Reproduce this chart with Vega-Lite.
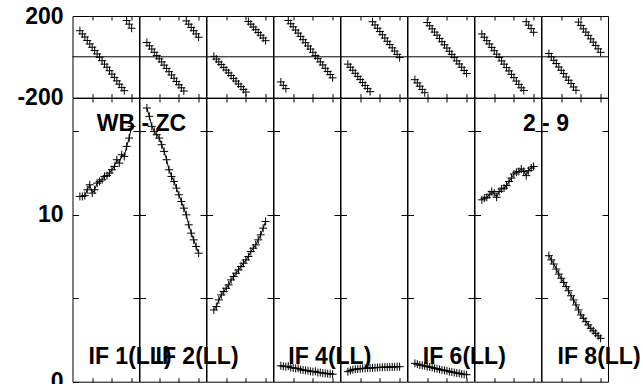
{
  "$schema": "https://vega.github.io/schema/vega-lite/v6.json",
  "background": "white",
  "padding": {"left": 15.5, "top": 4, "right": 0, "bottom": 0},
  "config": {
    "view": {"stroke": "black", "strokeWidth": 1},
    "font": "Liberation Sans",
    "axis": {"labelFont": "Liberation Sans", "labelFontSize": 23, "labelFontWeight": "bold", "labelColor": "black", "tickColor": "black", "tickWidth": 1, "domain": false, "grid": false, "labelOverlap": false}
  },
  "datasets": {
    "vis": [
      {"IF":1,"chan":3,"amp":11.1,"phase":128},{"IF":1,"chan":4,"amp":11.1,"phase":112},{"IF":1,"chan":5,"amp":11.15,"phase":97},{"IF":1,"chan":6,"amp":11.5,"phase":80},{"IF":1,"chan":7,"amp":11.8,"phase":63},{"IF":1,"chan":8,"amp":11.3,"phase":47},{"IF":1,"chan":9,"amp":11.5,"phase":31},{"IF":1,"chan":10,"amp":11.9,"phase":14},{"IF":1,"chan":11,"amp":12.0,"phase":-2},{"IF":1,"chan":12,"amp":12.1,"phase":-19},{"IF":1,"chan":13,"amp":12.3,"phase":-36},{"IF":1,"chan":14,"amp":12.35,"phase":-51},{"IF":1,"chan":15,"amp":12.5,"phase":-68},{"IF":1,"chan":16,"amp":12.7,"phase":-85},{"IF":1,"chan":17,"amp":12.9,"phase":-101},{"IF":1,"chan":18,"amp":13.3,"phase":-118},{"IF":1,"chan":19,"amp":13.1,"phase":-134},{"IF":1,"chan":20,"amp":13.6,"phase":-151},{"IF":1,"chan":21,"amp":13.5,"phase":-166},{"IF":1,"chan":22,"amp":14.1,"phase":178},{"IF":1,"chan":23,"amp":14.6,"phase":160},{"IF":1,"chan":24,"amp":15.3,"phase":140},
      {"IF":2,"chan":3,"amp":16.4,"phase":70},{"IF":2,"chan":4,"amp":15.9,"phase":54},{"IF":2,"chan":5,"amp":15.3,"phase":38},{"IF":2,"chan":6,"amp":15.0,"phase":22},{"IF":2,"chan":7,"amp":14.8,"phase":6},{"IF":2,"chan":8,"amp":14.6,"phase":-10},{"IF":2,"chan":9,"amp":14.2,"phase":-25},{"IF":2,"chan":10,"amp":13.8,"phase":-41},{"IF":2,"chan":11,"amp":13.3,"phase":-57},{"IF":2,"chan":12,"amp":12.7,"phase":-73},{"IF":2,"chan":13,"amp":12.3,"phase":-89},{"IF":2,"chan":14,"amp":12.0,"phase":-105},{"IF":2,"chan":15,"amp":11.6,"phase":-121},{"IF":2,"chan":16,"amp":11.2,"phase":-137},{"IF":2,"chan":17,"amp":10.8,"phase":-152},{"IF":2,"chan":18,"amp":10.4,"phase":-168},{"IF":2,"chan":19,"amp":10.0,"phase":176},{"IF":2,"chan":20,"amp":9.4,"phase":160},{"IF":2,"chan":21,"amp":8.9,"phase":144},{"IF":2,"chan":22,"amp":8.5,"phase":128},{"IF":2,"chan":23,"amp":8.1,"phase":112},{"IF":2,"chan":24,"amp":7.7,"phase":96},
      {"IF":3,"chan":3,"amp":4.3,"phase":2},{"IF":3,"chan":4,"amp":4.5,"phase":-11},{"IF":3,"chan":5,"amp":4.9,"phase":-25},{"IF":3,"chan":6,"amp":5.2,"phase":-38},{"IF":3,"chan":7,"amp":5.4,"phase":-52},{"IF":3,"chan":8,"amp":5.6,"phase":-65},{"IF":3,"chan":9,"amp":5.8,"phase":-79},{"IF":3,"chan":10,"amp":6.1,"phase":-92},{"IF":3,"chan":11,"amp":6.3,"phase":-106},{"IF":3,"chan":12,"amp":6.5,"phase":-119},{"IF":3,"chan":13,"amp":6.7,"phase":-133},{"IF":3,"chan":14,"amp":6.9,"phase":-146},{"IF":3,"chan":15,"amp":7.1,"phase":-160},{"IF":3,"chan":16,"amp":7.3,"phase":-173},{"IF":3,"chan":17,"amp":7.5,"phase":173},{"IF":3,"chan":18,"amp":7.8,"phase":160},{"IF":3,"chan":19,"amp":8.0,"phase":146},{"IF":3,"chan":20,"amp":8.2,"phase":133},{"IF":3,"chan":21,"amp":8.5,"phase":119},{"IF":3,"chan":22,"amp":8.8,"phase":106},{"IF":3,"chan":23,"amp":9.2,"phase":92},{"IF":3,"chan":24,"amp":9.6,"phase":79},
      {"IF":4,"chan":3,"amp":0.95,"phase":-123},{"IF":4,"chan":4,"amp":0.92,"phase":-140},{"IF":4,"chan":5,"amp":0.9,"phase":-156},{"IF":4,"chan":6,"amp":0.93,"phase":178},{"IF":4,"chan":7,"amp":0.85,"phase":162},{"IF":4,"chan":8,"amp":0.82,"phase":147},{"IF":4,"chan":9,"amp":0.8,"phase":131},{"IF":4,"chan":10,"amp":0.8,"phase":116},{"IF":4,"chan":11,"amp":0.72,"phase":100},{"IF":4,"chan":12,"amp":0.7,"phase":84},{"IF":4,"chan":13,"amp":0.68,"phase":69},{"IF":4,"chan":14,"amp":0.66,"phase":53},{"IF":4,"chan":15,"amp":0.62,"phase":38},{"IF":4,"chan":16,"amp":0.6,"phase":22},{"IF":4,"chan":17,"amp":0.62,"phase":6},{"IF":4,"chan":18,"amp":0.55,"phase":-9},{"IF":4,"chan":19,"amp":0.55,"phase":-25},{"IF":4,"chan":20,"amp":0.52,"phase":-40},{"IF":4,"chan":21,"amp":0.5,"phase":-56},{"IF":4,"chan":22,"amp":0.48,"phase":-72},{"IF":4,"chan":23,"amp":0.47,"phase":-87},{"IF":4,"chan":24,"amp":0.45,"phase":-103},
      {"IF":5,"chan":3,"amp":0.6,"phase":-36},{"IF":5,"chan":4,"amp":0.68,"phase":-51},{"IF":5,"chan":5,"amp":0.72,"phase":-66},{"IF":5,"chan":6,"amp":0.75,"phase":-81},{"IF":5,"chan":7,"amp":0.76,"phase":-96},{"IF":5,"chan":8,"amp":0.78,"phase":-111},{"IF":5,"chan":9,"amp":0.8,"phase":-126},{"IF":5,"chan":10,"amp":0.8,"phase":-141},{"IF":5,"chan":11,"amp":0.82,"phase":-156},{"IF":5,"chan":12,"amp":0.82,"phase":-171},{"IF":5,"chan":13,"amp":0.83,"phase":172},{"IF":5,"chan":14,"amp":0.84,"phase":156},{"IF":5,"chan":15,"amp":0.85,"phase":140},{"IF":5,"chan":16,"amp":0.86,"phase":124},{"IF":5,"chan":17,"amp":0.86,"phase":108},{"IF":5,"chan":18,"amp":0.87,"phase":92},{"IF":5,"chan":19,"amp":0.87,"phase":76},{"IF":5,"chan":20,"amp":0.88,"phase":60},{"IF":5,"chan":21,"amp":0.88,"phase":44},{"IF":5,"chan":22,"amp":0.89,"phase":28},{"IF":5,"chan":23,"amp":0.9,"phase":12},{"IF":5,"chan":24,"amp":0.9,"phase":-4},
      {"IF":6,"chan":3,"amp":1.1,"phase":-112},{"IF":6,"chan":4,"amp":1.05,"phase":-128},{"IF":6,"chan":5,"amp":1.0,"phase":-144},{"IF":6,"chan":6,"amp":0.98,"phase":-160},{"IF":6,"chan":7,"amp":0.95,"phase":-176},{"IF":6,"chan":8,"amp":0.9,"phase":168},{"IF":6,"chan":9,"amp":0.88,"phase":152},{"IF":6,"chan":10,"amp":0.85,"phase":137},{"IF":6,"chan":11,"amp":0.8,"phase":121},{"IF":6,"chan":12,"amp":0.78,"phase":106},{"IF":6,"chan":13,"amp":0.74,"phase":90},{"IF":6,"chan":14,"amp":0.7,"phase":74},{"IF":6,"chan":15,"amp":0.68,"phase":59},{"IF":6,"chan":16,"amp":0.65,"phase":43},{"IF":6,"chan":17,"amp":0.6,"phase":27},{"IF":6,"chan":18,"amp":0.58,"phase":12},{"IF":6,"chan":19,"amp":0.55,"phase":-4},{"IF":6,"chan":20,"amp":0.52,"phase":-20},{"IF":6,"chan":21,"amp":0.5,"phase":-35},{"IF":6,"chan":22,"amp":0.46,"phase":-51},{"IF":6,"chan":23,"amp":0.44,"phase":-67},{"IF":6,"chan":24,"amp":0.42,"phase":-82},
      {"IF":7,"chan":3,"amp":10.9,"phase":112},{"IF":7,"chan":4,"amp":11.0,"phase":96},{"IF":7,"chan":5,"amp":11.05,"phase":79},{"IF":7,"chan":6,"amp":11.2,"phase":63},{"IF":7,"chan":7,"amp":11.4,"phase":46},{"IF":7,"chan":8,"amp":11.3,"phase":30},{"IF":7,"chan":9,"amp":11.05,"phase":13},{"IF":7,"chan":10,"amp":11.4,"phase":-3},{"IF":7,"chan":11,"amp":11.55,"phase":-20},{"IF":7,"chan":12,"amp":11.6,"phase":-36},{"IF":7,"chan":13,"amp":11.75,"phase":-53},{"IF":7,"chan":14,"amp":12.0,"phase":-69},{"IF":7,"chan":15,"amp":12.2,"phase":-86},{"IF":7,"chan":16,"amp":12.45,"phase":-102},{"IF":7,"chan":17,"amp":12.55,"phase":-119},{"IF":7,"chan":18,"amp":12.6,"phase":-135},{"IF":7,"chan":19,"amp":12.75,"phase":-152},{"IF":7,"chan":20,"amp":12.6,"phase":-165},{"IF":7,"chan":21,"amp":12.35,"phase":172},{"IF":7,"chan":22,"amp":12.65,"phase":155},{"IF":7,"chan":23,"amp":12.8,"phase":138},{"IF":7,"chan":24,"amp":12.9,"phase":120},
      {"IF":8,"chan":3,"amp":7.55,"phase":16},{"IF":8,"chan":4,"amp":7.3,"phase":0},{"IF":8,"chan":5,"amp":7.05,"phase":-17},{"IF":8,"chan":6,"amp":6.75,"phase":-33},{"IF":8,"chan":7,"amp":6.45,"phase":-50},{"IF":8,"chan":8,"amp":6.2,"phase":-66},{"IF":8,"chan":9,"amp":5.95,"phase":-82},{"IF":8,"chan":10,"amp":5.7,"phase":-99},{"IF":8,"chan":11,"amp":5.45,"phase":-115},{"IF":8,"chan":12,"amp":5.15,"phase":-131},{"IF":8,"chan":13,"amp":4.9,"phase":-148},{"IF":8,"chan":14,"amp":4.6,"phase":-164},{"IF":8,"chan":15,"amp":4.3,"phase":170},{"IF":8,"chan":16,"amp":4.0,"phase":154},{"IF":8,"chan":17,"amp":3.8,"phase":137},{"IF":8,"chan":18,"amp":3.6,"phase":121},{"IF":8,"chan":19,"amp":3.4,"phase":105},{"IF":8,"chan":20,"amp":3.2,"phase":88},{"IF":8,"chan":21,"amp":3.05,"phase":72},{"IF":8,"chan":22,"amp":2.9,"phase":55},{"IF":8,"chan":23,"amp":2.75,"phase":39},{"IF":8,"chan":24,"amp":2.6,"phase":22}
    ]
  },
  "columns": 8,
  "spacing": 0,
  "bounds": "flush",
  "align": "each",
  "concat": [
    {"width": 66.5, "height": 81.6, "resolve": {"axis": {"x": "independent", "y": "independent"}}, "layer": [
      {"data": {"values": [{"phase": 0}]}, "mark": {"type": "rule", "color": "black", "strokeWidth": 1}, "encoding": {"x": {"datum": 0, "axis": {"orient": "top", "values": [8,16,24], "labels": false, "tickSize": 4, "offset": -4, "title": null}}, "x2": {"datum": 27}, "y": {"field": "phase", "type": "quantitative", "axis": {"orient": "left", "values": [-200,200], "labelExpr": "datum.value < 0 ? '-' + abs(datum.value) : '' + datum.value", "ticks": false, "tickSize": 0, "labelPadding": 9.5, "title": null}}}},
      {"data": {"name": "vis"}, "transform": [{"filter": "datum.IF == 1"}], "mark": {"type": "point", "shape": "M-1,0L1,0M0,-1L0,1", "filled": false, "stroke": "black", "strokeWidth": 1, "size": 64, "opacity": 1}, "encoding": {"x": {"field": "chan", "type": "quantitative", "scale": {"domain": [0,27], "nice": false, "zero": false}, "axis": {"orient": "bottom", "values": [8,16,24], "labels": false, "tickSize": 4, "offset": -4, "title": null}}, "y": {"field": "phase", "type": "quantitative", "scale": {"domain": [-200,200], "nice": false, "zero": false}, "axis": null}}}
    ]},
    {"width": 66.5, "height": 81.6, "resolve": {"axis": {"x": "independent", "y": "independent"}}, "layer": [
      {"data": {"values": [{"phase": 0}]}, "mark": {"type": "rule", "color": "black", "strokeWidth": 1}, "encoding": {"x": {"datum": 0, "axis": {"orient": "top", "values": [8,16,24], "labels": false, "tickSize": 4, "offset": -4, "title": null}}, "x2": {"datum": 27}, "y": {"field": "phase", "type": "quantitative", "axis": null}}},
      {"data": {"name": "vis"}, "transform": [{"filter": "datum.IF == 2"}], "mark": {"type": "point", "shape": "M-1,0L1,0M0,-1L0,1", "filled": false, "stroke": "black", "strokeWidth": 1, "size": 64, "opacity": 1}, "encoding": {"x": {"field": "chan", "type": "quantitative", "scale": {"domain": [0,27], "nice": false, "zero": false}, "axis": {"orient": "bottom", "values": [8,16,24], "labels": false, "tickSize": 4, "offset": -4, "title": null}}, "y": {"field": "phase", "type": "quantitative", "scale": {"domain": [-200,200], "nice": false, "zero": false}, "axis": null}}}
    ]},
    {"width": 66.5, "height": 81.6, "resolve": {"axis": {"x": "independent", "y": "independent"}}, "layer": [
      {"data": {"values": [{"phase": 0}]}, "mark": {"type": "rule", "color": "black", "strokeWidth": 1}, "encoding": {"x": {"datum": 0, "axis": {"orient": "top", "values": [8,16,24], "labels": false, "tickSize": 4, "offset": -4, "title": null}}, "x2": {"datum": 27}, "y": {"field": "phase", "type": "quantitative", "axis": null}}},
      {"data": {"name": "vis"}, "transform": [{"filter": "datum.IF == 3"}], "mark": {"type": "point", "shape": "M-1,0L1,0M0,-1L0,1", "filled": false, "stroke": "black", "strokeWidth": 1, "size": 64, "opacity": 1}, "encoding": {"x": {"field": "chan", "type": "quantitative", "scale": {"domain": [0,27], "nice": false, "zero": false}, "axis": {"orient": "bottom", "values": [8,16,24], "labels": false, "tickSize": 4, "offset": -4, "title": null}}, "y": {"field": "phase", "type": "quantitative", "scale": {"domain": [-200,200], "nice": false, "zero": false}, "axis": null}}}
    ]},
    {"width": 66.5, "height": 81.6, "resolve": {"axis": {"x": "independent", "y": "independent"}}, "layer": [
      {"data": {"values": [{"phase": 0}]}, "mark": {"type": "rule", "color": "black", "strokeWidth": 1}, "encoding": {"x": {"datum": 0, "axis": {"orient": "top", "values": [8,16,24], "labels": false, "tickSize": 4, "offset": -4, "title": null}}, "x2": {"datum": 27}, "y": {"field": "phase", "type": "quantitative", "axis": null}}},
      {"data": {"name": "vis"}, "transform": [{"filter": "datum.IF == 4"}], "mark": {"type": "point", "shape": "M-1,0L1,0M0,-1L0,1", "filled": false, "stroke": "black", "strokeWidth": 1, "size": 64, "opacity": 1}, "encoding": {"x": {"field": "chan", "type": "quantitative", "scale": {"domain": [0,27], "nice": false, "zero": false}, "axis": {"orient": "bottom", "values": [8,16,24], "labels": false, "tickSize": 4, "offset": -4, "title": null}}, "y": {"field": "phase", "type": "quantitative", "scale": {"domain": [-200,200], "nice": false, "zero": false}, "axis": null}}}
    ]},
    {"width": 66.5, "height": 81.6, "resolve": {"axis": {"x": "independent", "y": "independent"}}, "layer": [
      {"data": {"values": [{"phase": 0}]}, "mark": {"type": "rule", "color": "black", "strokeWidth": 1}, "encoding": {"x": {"datum": 0, "axis": {"orient": "top", "values": [8,16,24], "labels": false, "tickSize": 4, "offset": -4, "title": null}}, "x2": {"datum": 27}, "y": {"field": "phase", "type": "quantitative", "axis": null}}},
      {"data": {"name": "vis"}, "transform": [{"filter": "datum.IF == 5"}], "mark": {"type": "point", "shape": "M-1,0L1,0M0,-1L0,1", "filled": false, "stroke": "black", "strokeWidth": 1, "size": 64, "opacity": 1}, "encoding": {"x": {"field": "chan", "type": "quantitative", "scale": {"domain": [0,27], "nice": false, "zero": false}, "axis": {"orient": "bottom", "values": [8,16,24], "labels": false, "tickSize": 4, "offset": -4, "title": null}}, "y": {"field": "phase", "type": "quantitative", "scale": {"domain": [-200,200], "nice": false, "zero": false}, "axis": null}}}
    ]},
    {"width": 66.5, "height": 81.6, "resolve": {"axis": {"x": "independent", "y": "independent"}}, "layer": [
      {"data": {"values": [{"phase": 0}]}, "mark": {"type": "rule", "color": "black", "strokeWidth": 1}, "encoding": {"x": {"datum": 0, "axis": {"orient": "top", "values": [8,16,24], "labels": false, "tickSize": 4, "offset": -4, "title": null}}, "x2": {"datum": 27}, "y": {"field": "phase", "type": "quantitative", "axis": null}}},
      {"data": {"name": "vis"}, "transform": [{"filter": "datum.IF == 6"}], "mark": {"type": "point", "shape": "M-1,0L1,0M0,-1L0,1", "filled": false, "stroke": "black", "strokeWidth": 1, "size": 64, "opacity": 1}, "encoding": {"x": {"field": "chan", "type": "quantitative", "scale": {"domain": [0,27], "nice": false, "zero": false}, "axis": {"orient": "bottom", "values": [8,16,24], "labels": false, "tickSize": 4, "offset": -4, "title": null}}, "y": {"field": "phase", "type": "quantitative", "scale": {"domain": [-200,200], "nice": false, "zero": false}, "axis": null}}}
    ]},
    {"width": 66.5, "height": 81.6, "resolve": {"axis": {"x": "independent", "y": "independent"}}, "layer": [
      {"data": {"values": [{"phase": 0}]}, "mark": {"type": "rule", "color": "black", "strokeWidth": 1}, "encoding": {"x": {"datum": 0, "axis": {"orient": "top", "values": [8,16,24], "labels": false, "tickSize": 4, "offset": -4, "title": null}}, "x2": {"datum": 27}, "y": {"field": "phase", "type": "quantitative", "axis": null}}},
      {"data": {"name": "vis"}, "transform": [{"filter": "datum.IF == 7"}], "mark": {"type": "point", "shape": "M-1,0L1,0M0,-1L0,1", "filled": false, "stroke": "black", "strokeWidth": 1, "size": 64, "opacity": 1}, "encoding": {"x": {"field": "chan", "type": "quantitative", "scale": {"domain": [0,27], "nice": false, "zero": false}, "axis": {"orient": "bottom", "values": [8,16,24], "labels": false, "tickSize": 4, "offset": -4, "title": null}}, "y": {"field": "phase", "type": "quantitative", "scale": {"domain": [-200,200], "nice": false, "zero": false}, "axis": null}}}
    ]},
    {"width": 66.5, "height": 81.6, "resolve": {"axis": {"x": "independent", "y": "independent"}}, "layer": [
      {"data": {"values": [{"phase": 0}]}, "mark": {"type": "rule", "color": "black", "strokeWidth": 1}, "encoding": {"x": {"datum": 0, "axis": {"orient": "top", "values": [8,16,24], "labels": false, "tickSize": 4, "offset": -4, "title": null}}, "x2": {"datum": 27}, "y": {"field": "phase", "type": "quantitative", "axis": null}}},
      {"data": {"name": "vis"}, "transform": [{"filter": "datum.IF == 8"}], "mark": {"type": "point", "shape": "M-1,0L1,0M0,-1L0,1", "filled": false, "stroke": "black", "strokeWidth": 1, "size": 64, "opacity": 1}, "encoding": {"x": {"field": "chan", "type": "quantitative", "scale": {"domain": [0,27], "nice": false, "zero": false}, "axis": {"orient": "bottom", "values": [8,16,24], "labels": false, "tickSize": 4, "offset": -4, "title": null}}, "y": {"field": "phase", "type": "quantitative", "scale": {"domain": [-200,200], "nice": false, "zero": false}, "axis": null}}}
    ]},

    {"width": 66.5, "height": 283.7, "resolve": {"axis": {"x": "independent", "y": "independent"}}, "layer": [
      {"data": {"name": "vis"}, "transform": [{"filter": "datum.IF == 1"}], "mark": {"type": "line", "color": "black", "strokeWidth": 1}, "encoding": {"x": {"field": "chan", "type": "quantitative", "scale": {"domain": [0,27], "nice": false, "zero": false}, "axis": {"orient": "bottom", "values": [8,16,24], "labels": false, "tickSize": 4, "offset": -4, "title": null}}, "y": {"field": "amp", "type": "quantitative", "scale": {"domain": [0,17], "nice": false, "zero": false}, "axis": {"orient": "left", "values": [0,5,10,15], "labelExpr": "datum.value == 0 || datum.value == 10 ? datum.label : ''", "labelPadding": 9.5, "tickSize": 6, "offset": -6, "title": null}}}},
      {"data": {"name": "vis"}, "transform": [{"filter": "datum.IF == 1"}], "mark": {"type": "point", "shape": "M-1,0L1,0M0,-1L0,1", "filled": false, "stroke": "black", "strokeWidth": 1, "size": 64, "opacity": 1}, "encoding": {"x": {"field": "chan", "type": "quantitative", "axis": {"orient": "top", "values": [8,16,24], "labels": false, "tickSize": 4, "offset": -4, "title": null}}, "y": {"field": "amp", "type": "quantitative", "axis": {"orient": "right", "values": [5,10,15], "labels": false, "tickSize": 6, "offset": -6, "title": null}}}},
      {"data": {"values": [{"label": "IF 1(LL)"}]}, "mark": {"type": "text", "font": "Liberation Sans", "fontSize": 23, "fontWeight": "bold", "align": "left", "baseline": "alphabetic", "color": "black"}, "encoding": {"x": {"datum": 6.5, "axis": null}, "y": {"datum": 1.08, "axis": null}, "text": {"field": "label"}}},
      {"data": {"values": [{"label": "WB - ZC"}]}, "mark": {"type": "text", "font": "Liberation Sans", "fontSize": 23, "fontWeight": "bold", "align": "center", "baseline": "alphabetic", "color": "black"}, "encoding": {"x": {"datum": 28, "axis": null}, "y": {"datum": 15.04, "axis": null}, "text": {"field": "label"}}}
    ]},
    {"width": 66.5, "height": 283.7, "resolve": {"axis": {"x": "independent", "y": "independent"}}, "layer": [
      {"data": {"name": "vis"}, "transform": [{"filter": "datum.IF == 2"}], "mark": {"type": "line", "color": "black", "strokeWidth": 1}, "encoding": {"x": {"field": "chan", "type": "quantitative", "scale": {"domain": [0,27], "nice": false, "zero": false}, "axis": {"orient": "bottom", "values": [8,16,24], "labels": false, "tickSize": 4, "offset": -4, "title": null}}, "y": {"field": "amp", "type": "quantitative", "scale": {"domain": [0,17], "nice": false, "zero": false}, "axis": {"orient": "left", "values": [5,10,15], "labels": false, "tickSize": 6, "offset": -6, "title": null}}}},
      {"data": {"name": "vis"}, "transform": [{"filter": "datum.IF == 2"}], "mark": {"type": "point", "shape": "M-1,0L1,0M0,-1L0,1", "filled": false, "stroke": "black", "strokeWidth": 1, "size": 64, "opacity": 1}, "encoding": {"x": {"field": "chan", "type": "quantitative", "axis": {"orient": "top", "values": [8,16,24], "labels": false, "tickSize": 4, "offset": -4, "title": null}}, "y": {"field": "amp", "type": "quantitative", "axis": {"orient": "right", "values": [5,10,15], "labels": false, "tickSize": 6, "offset": -6, "title": null}}}},
      {"data": {"values": [{"label": "IF 2(LL)"}]}, "mark": {"type": "text", "font": "Liberation Sans", "fontSize": 23, "fontWeight": "bold", "align": "left", "baseline": "alphabetic", "color": "black"}, "encoding": {"x": {"datum": 6.5, "axis": null}, "y": {"datum": 1.08, "axis": null}, "text": {"field": "label"}}}
    ]},
    {"width": 66.5, "height": 283.7, "resolve": {"axis": {"x": "independent", "y": "independent"}}, "layer": [
      {"data": {"name": "vis"}, "transform": [{"filter": "datum.IF == 3"}], "mark": {"type": "line", "color": "black", "strokeWidth": 1}, "encoding": {"x": {"field": "chan", "type": "quantitative", "scale": {"domain": [0,27], "nice": false, "zero": false}, "axis": {"orient": "bottom", "values": [8,16,24], "labels": false, "tickSize": 4, "offset": -4, "title": null}}, "y": {"field": "amp", "type": "quantitative", "scale": {"domain": [0,17], "nice": false, "zero": false}, "axis": {"orient": "left", "values": [5,10,15], "labels": false, "tickSize": 6, "offset": -6, "title": null}}}},
      {"data": {"name": "vis"}, "transform": [{"filter": "datum.IF == 3"}], "mark": {"type": "point", "shape": "M-1,0L1,0M0,-1L0,1", "filled": false, "stroke": "black", "strokeWidth": 1, "size": 64, "opacity": 1}, "encoding": {"x": {"field": "chan", "type": "quantitative", "axis": {"orient": "top", "values": [8,16,24], "labels": false, "tickSize": 4, "offset": -4, "title": null}}, "y": {"field": "amp", "type": "quantitative", "axis": {"orient": "right", "values": [5,10,15], "labels": false, "tickSize": 6, "offset": -6, "title": null}}}}
    ]},
    {"width": 66.5, "height": 283.7, "resolve": {"axis": {"x": "independent", "y": "independent"}}, "layer": [
      {"data": {"name": "vis"}, "transform": [{"filter": "datum.IF == 4"}], "mark": {"type": "line", "color": "black", "strokeWidth": 1}, "encoding": {"x": {"field": "chan", "type": "quantitative", "scale": {"domain": [0,27], "nice": false, "zero": false}, "axis": {"orient": "bottom", "values": [8,16,24], "labels": false, "tickSize": 4, "offset": -4, "title": null}}, "y": {"field": "amp", "type": "quantitative", "scale": {"domain": [0,17], "nice": false, "zero": false}, "axis": {"orient": "left", "values": [5,10,15], "labels": false, "tickSize": 6, "offset": -6, "title": null}}}},
      {"data": {"name": "vis"}, "transform": [{"filter": "datum.IF == 4"}], "mark": {"type": "point", "shape": "M-1,0L1,0M0,-1L0,1", "filled": false, "stroke": "black", "strokeWidth": 1, "size": 64, "opacity": 1}, "encoding": {"x": {"field": "chan", "type": "quantitative", "axis": {"orient": "top", "values": [8,16,24], "labels": false, "tickSize": 4, "offset": -4, "title": null}}, "y": {"field": "amp", "type": "quantitative", "axis": {"orient": "right", "values": [5,10,15], "labels": false, "tickSize": 6, "offset": -6, "title": null}}}},
      {"data": {"values": [{"label": "IF 4(LL)"}]}, "mark": {"type": "text", "font": "Liberation Sans", "fontSize": 23, "fontWeight": "bold", "align": "left", "baseline": "alphabetic", "color": "black"}, "encoding": {"x": {"datum": 6.0, "axis": null}, "y": {"datum": 1.08, "axis": null}, "text": {"field": "label"}}}
    ]},
    {"width": 66.5, "height": 283.7, "resolve": {"axis": {"x": "independent", "y": "independent"}}, "layer": [
      {"data": {"name": "vis"}, "transform": [{"filter": "datum.IF == 5"}], "mark": {"type": "line", "color": "black", "strokeWidth": 1}, "encoding": {"x": {"field": "chan", "type": "quantitative", "scale": {"domain": [0,27], "nice": false, "zero": false}, "axis": {"orient": "bottom", "values": [8,16,24], "labels": false, "tickSize": 4, "offset": -4, "title": null}}, "y": {"field": "amp", "type": "quantitative", "scale": {"domain": [0,17], "nice": false, "zero": false}, "axis": {"orient": "left", "values": [5,10,15], "labels": false, "tickSize": 6, "offset": -6, "title": null}}}},
      {"data": {"name": "vis"}, "transform": [{"filter": "datum.IF == 5"}], "mark": {"type": "point", "shape": "M-1,0L1,0M0,-1L0,1", "filled": false, "stroke": "black", "strokeWidth": 1, "size": 64, "opacity": 1}, "encoding": {"x": {"field": "chan", "type": "quantitative", "axis": {"orient": "top", "values": [8,16,24], "labels": false, "tickSize": 4, "offset": -4, "title": null}}, "y": {"field": "amp", "type": "quantitative", "axis": {"orient": "right", "values": [5,10,15], "labels": false, "tickSize": 6, "offset": -6, "title": null}}}}
    ]},
    {"width": 66.5, "height": 283.7, "resolve": {"axis": {"x": "independent", "y": "independent"}}, "layer": [
      {"data": {"name": "vis"}, "transform": [{"filter": "datum.IF == 6"}], "mark": {"type": "line", "color": "black", "strokeWidth": 1}, "encoding": {"x": {"field": "chan", "type": "quantitative", "scale": {"domain": [0,27], "nice": false, "zero": false}, "axis": {"orient": "bottom", "values": [8,16,24], "labels": false, "tickSize": 4, "offset": -4, "title": null}}, "y": {"field": "amp", "type": "quantitative", "scale": {"domain": [0,17], "nice": false, "zero": false}, "axis": {"orient": "left", "values": [5,10,15], "labels": false, "tickSize": 6, "offset": -6, "title": null}}}},
      {"data": {"name": "vis"}, "transform": [{"filter": "datum.IF == 6"}], "mark": {"type": "point", "shape": "M-1,0L1,0M0,-1L0,1", "filled": false, "stroke": "black", "strokeWidth": 1, "size": 64, "opacity": 1}, "encoding": {"x": {"field": "chan", "type": "quantitative", "axis": {"orient": "top", "values": [8,16,24], "labels": false, "tickSize": 4, "offset": -4, "title": null}}, "y": {"field": "amp", "type": "quantitative", "axis": {"orient": "right", "values": [5,10,15], "labels": false, "tickSize": 6, "offset": -6, "title": null}}}},
      {"data": {"values": [{"label": "IF 6(LL)"}]}, "mark": {"type": "text", "font": "Liberation Sans", "fontSize": 23, "fontWeight": "bold", "align": "left", "baseline": "alphabetic", "color": "black"}, "encoding": {"x": {"datum": 6.2, "axis": null}, "y": {"datum": 1.08, "axis": null}, "text": {"field": "label"}}}
    ]},
    {"width": 66.5, "height": 283.7, "resolve": {"axis": {"x": "independent", "y": "independent"}}, "layer": [
      {"data": {"name": "vis"}, "transform": [{"filter": "datum.IF == 7"}], "mark": {"type": "line", "color": "black", "strokeWidth": 1}, "encoding": {"x": {"field": "chan", "type": "quantitative", "scale": {"domain": [0,27], "nice": false, "zero": false}, "axis": {"orient": "bottom", "values": [8,16,24], "labels": false, "tickSize": 4, "offset": -4, "title": null}}, "y": {"field": "amp", "type": "quantitative", "scale": {"domain": [0,17], "nice": false, "zero": false}, "axis": {"orient": "left", "values": [5,10,15], "labels": false, "tickSize": 6, "offset": -6, "title": null}}}},
      {"data": {"name": "vis"}, "transform": [{"filter": "datum.IF == 7"}], "mark": {"type": "point", "shape": "M-1,0L1,0M0,-1L0,1", "filled": false, "stroke": "black", "strokeWidth": 1, "size": 64, "opacity": 1}, "encoding": {"x": {"field": "chan", "type": "quantitative", "axis": {"orient": "top", "values": [8,16,24], "labels": false, "tickSize": 4, "offset": -4, "title": null}}, "y": {"field": "amp", "type": "quantitative", "axis": {"orient": "right", "values": [5,10,15], "labels": false, "tickSize": 6, "offset": -6, "title": null}}}}
    ]},
    {"width": 66.5, "height": 283.7, "resolve": {"axis": {"x": "independent", "y": "independent"}}, "layer": [
      {"data": {"name": "vis"}, "transform": [{"filter": "datum.IF == 8"}], "mark": {"type": "line", "color": "black", "strokeWidth": 1}, "encoding": {"x": {"field": "chan", "type": "quantitative", "scale": {"domain": [0,27], "nice": false, "zero": false}, "axis": {"orient": "bottom", "values": [8,16,24], "labels": false, "tickSize": 4, "offset": -4, "title": null}}, "y": {"field": "amp", "type": "quantitative", "scale": {"domain": [0,17], "nice": false, "zero": false}, "axis": {"orient": "left", "values": [5,10,15], "labels": false, "tickSize": 6, "offset": -6, "title": null}}}},
      {"data": {"name": "vis"}, "transform": [{"filter": "datum.IF == 8"}], "mark": {"type": "point", "shape": "M-1,0L1,0M0,-1L0,1", "filled": false, "stroke": "black", "strokeWidth": 1, "size": 64, "opacity": 1}, "encoding": {"x": {"field": "chan", "type": "quantitative", "axis": {"orient": "top", "values": [8,16,24], "labels": false, "tickSize": 4, "offset": -4, "title": null}}, "y": {"field": "amp", "type": "quantitative", "axis": {"orient": "right", "values": [5,10,15], "labels": false, "tickSize": 6, "offset": -6, "title": null}}}},
      {"data": {"values": [{"label": "IF 8(LL)"}]}, "mark": {"type": "text", "font": "Liberation Sans", "fontSize": 23, "fontWeight": "bold", "align": "left", "baseline": "alphabetic", "color": "black"}, "encoding": {"x": {"datum": 6.5, "axis": null}, "y": {"datum": 1.08, "axis": null}, "text": {"field": "label"}}},
      {"data": {"values": [{"label": "2 - 9"}]}, "mark": {"type": "text", "font": "Liberation Sans", "fontSize": 23, "fontWeight": "bold", "align": "center", "baseline": "alphabetic", "color": "black"}, "encoding": {"x": {"datum": 1.8, "axis": null}, "y": {"datum": 15.04, "axis": null}, "text": {"field": "label"}}}
    ]}
  ]
}
